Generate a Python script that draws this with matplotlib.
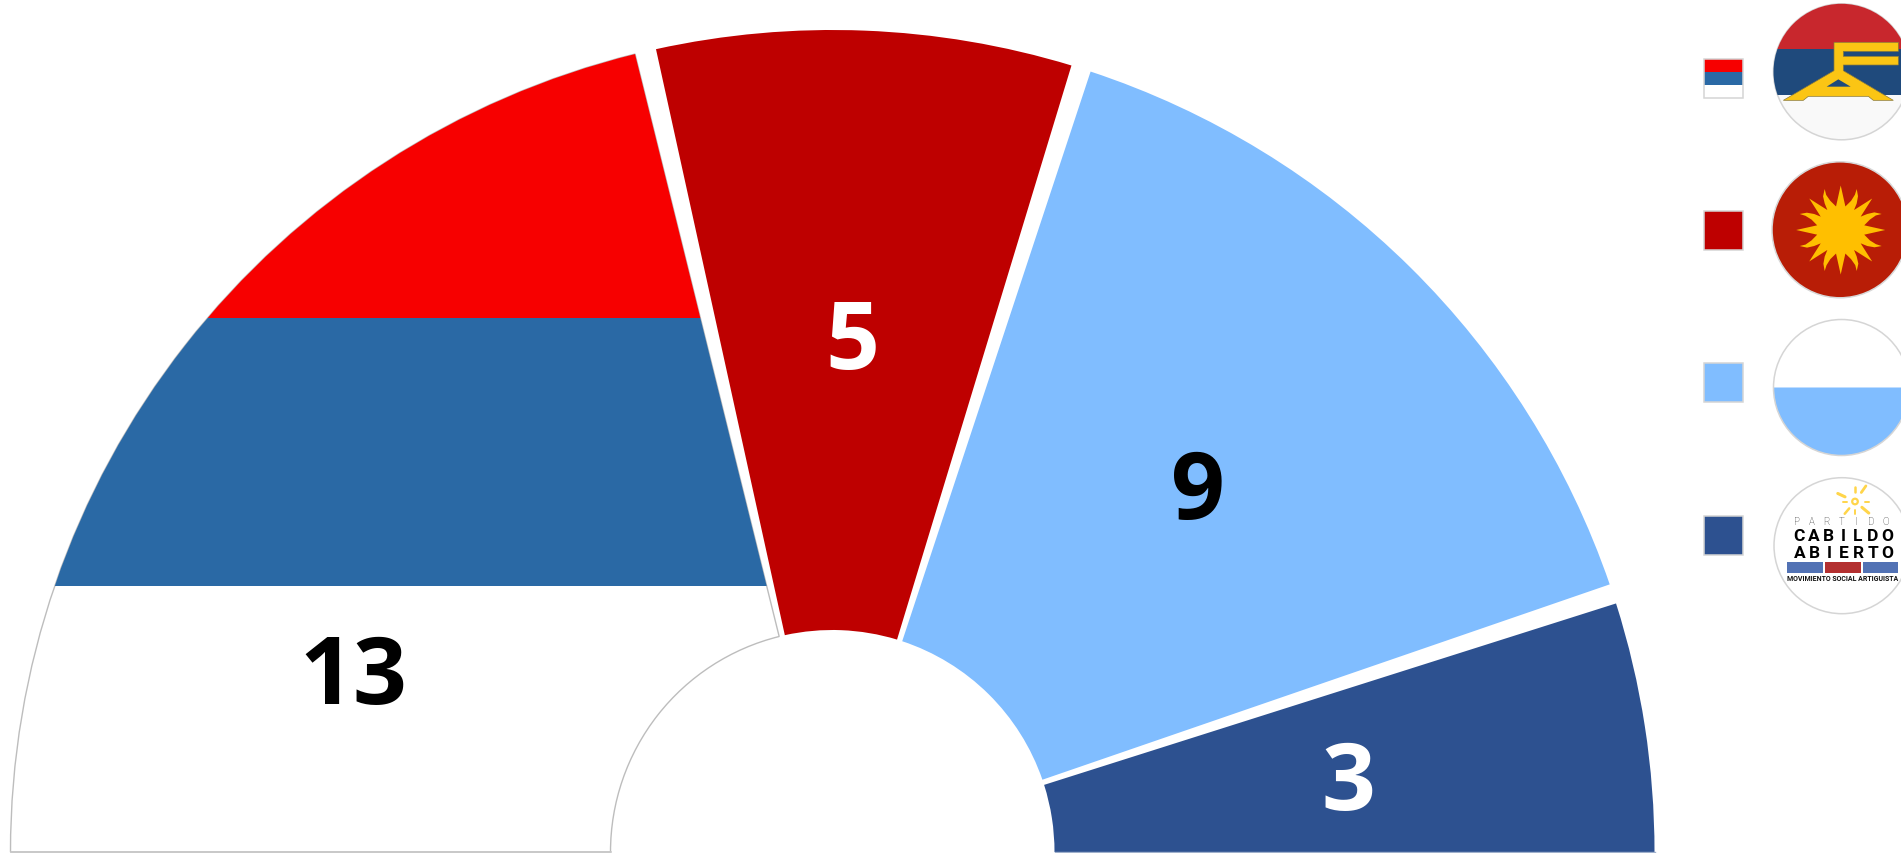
import numpy as np
import matplotlib
matplotlib.use("Agg")
import matplotlib.pyplot as plt
from matplotlib.patches import Wedge, Rectangle, Circle, Polygon

# ---- data ----
parties = ["Frente Amplio", "Partido Colorado", "Partido Nacional", "Cabildo Abierto"]
seats = [13, 5, 9, 3]
label_text = ["13", "5", "9", "3"]
colors = ["#FFFFFF", "#BE0000", "#80BDFF", "#2D5190"]
label_colors = ["black", "white", "black", "white"]
tricolor = ["#F70000", "#2A69A5", "#FFFFFF"]

W, H = 1901, 854
fig = plt.figure(figsize=(W / 100, H / 100), dpi=100)
ax = fig.add_axes([0, 0, 1, 1])
ax.set_xlim(0, W)
ax.set_ylim(H, 0)          # pixel-like coordinates, y downward
ax.set_aspect("equal")
ax.axis("off")

FONT = "Open Sans"
CX, CY, R_OUT, R_IN = 832.5, 853.0, 822.0, 222.0
EDGE = "#BDBDBD"
# angular trim of each wedge (degrees) at its start and end
trim_start = [0.0, -0.4, 0.3, 0.4]
trim_end = [1.9, 1.1, 1.0, 0.0]

total = sum(seats)
cum = np.cumsum([0] + seats)
# Wedge angles on a y-down axis run clockwise from +x: semicircle is 180..360
th_start = [180 + 180 * c / total for c in cum[:-1]]
th_end = [180 + 180 * c / total for c in cum[1:]]
label_xy = [(353.7, 668.7), (852.5, 334), (1198, 483), (1348, 774.7)]

for i, s in enumerate(seats):
    a0 = th_start[i] + trim_start[i]
    a1 = th_end[i] - trim_end[i]
    if i == 0:
        base = Wedge((CX, CY), R_OUT, a0, a1, width=R_OUT - R_IN,
                     facecolor="white", edgecolor=EDGE, linewidth=1.0, zorder=2)
        ax.add_patch(base)
        clip = Wedge((CX, CY), R_OUT, a0, a1, width=R_OUT - R_IN,
                     transform=ax.transData, facecolor="none", edgecolor="none")
        ax.add_patch(clip)
        bands = [(0, 319.3), (319.3, 586.7)]
        for (y0, y1), c in zip(bands, tricolor[:2]):
            r = Rectangle((0, y0), CX + 200, y1 - y0, facecolor=c,
                          edgecolor="none", zorder=3)
            ax.add_patch(r)
            r.set_clip_path(clip)
    else:
        ax.add_patch(Wedge((CX, CY), R_OUT, a0, a1, width=R_OUT - R_IN,
                           facecolor=colors[i], edgecolor="none", zorder=2))
    ax.text(label_xy[i][0], label_xy[i][1], label_text[i], color=label_colors[i],
            fontsize=68, fontweight="bold", family=FONT, ha="center",
            va="center_baseline", zorder=5)

# baseline hairline under the chart
ax.plot([CX - R_OUT, CX - R_IN], [CY, CY], color="#C8C8C8", lw=1.2, zorder=4)
ax.plot([CX + R_IN, CX + R_OUT], [CY, CY], color="#9FB0CC", lw=1.0, zorder=4)

# ---- legend squares ----
LX, LS = 1703.5, 39
leg_y = [59.5, 211.5, 363.5, 516.5]
for i, y in enumerate(leg_y):
    if i == 0:
        ax.add_patch(Rectangle((LX, y), LS, 13, facecolor=tricolor[0], edgecolor="none", zorder=3))
        ax.add_patch(Rectangle((LX, y + 13), LS, 13, facecolor=tricolor[1], edgecolor="none", zorder=3))
        ax.add_patch(Rectangle((LX, y), LS, LS, facecolor="none", edgecolor="#D5D5D5", lw=1.1, zorder=4))
    else:
        ax.add_patch(Rectangle((LX, y), LS, LS, facecolor=colors[i], edgecolor="#D5D5D5", lw=1.1, zorder=3))

# ---- logo 1 ----
LOGO_R = 68.0
def circle(cx, cy, face, edge="#D5D5D5", r=LOGO_R):
    c = Circle((cx, cy), r, facecolor=face, edgecolor=edge, lw=1.1, zorder=3)
    ax.add_patch(c)
    return c

c1x, c1y = 1841.5, 72.8
clip1 = circle(c1x, c1y, "#F9F9F9")
for y0, y1, c in [(0, 50, "#C8272D"), (50, 95.5, "#1F4A7C")]:
    r = Rectangle((1760, y0), 150, y1 - y0, facecolor=c, edgecolor="none", zorder=3.1)
    ax.add_patch(r)
    r.set_clip_path(clip1)
def z1(pts):
    return [(1660 + x / 3, y / 3) for x, y in pts]
emblem = z1([(522, 130), (715, 130), (715, 157), (550, 157), (550, 172), (715, 172),
             (715, 198), (550, 198), (550, 215), (700, 304), (640, 304), (625, 292),
             (445, 292), (430, 304), (370, 304), (522, 215)])
ax.add_patch(Polygon(emblem, closed=True, facecolor="#FBC514", edgecolor="#8A7A3A", lw=0.5, zorder=3.3))
ax.add_patch(Polygon(z1([(500, 263), (535, 241), (572, 263)]), closed=True,
                     facecolor="#1F4A7C", edgecolor="none", zorder=3.4))

# ---- logo 2 ----
c2x, c2y = 1840.0, 230.8
circle(c2x, c2y, "#B81D06", edge="#D8D8D8")
sx, sy = 1840.7, 231.0
def P(r, a):
    return (sx + r * np.cos(a), sy + r * np.sin(a))
pts = []
n = 16
for k in range(n):
    ang = 2 * np.pi * k / n
    pts.append(P(24, ang - np.pi / n))
    if k % 2 == 0:
        pts.append(P(44.5, ang))
    else:
        # curled ray: body shifted slightly one way, tip back the other
        s = 1 if k in (1, 5, 9, 13) else -1
        pts += [P(31, ang + s * 0.05 - 0.10), P(38, ang + s * 0.04 - 0.05),
                P(44, ang - s * 0.02),
                P(38, ang + s * 0.04 + 0.04), P(31, ang + s * 0.05 + 0.10)]
ax.add_patch(Polygon(pts, closed=True, facecolor="#FFBF00", edgecolor="none", zorder=3.3))

# ---- logo 3 ----
c3x, c3y = 1841.5, 388.5
ax.add_patch(Wedge((c3x, c3y), LOGO_R, 0, 180, facecolor="#80BDFF", edgecolor="none", zorder=3))
circle(c3x, c3y, "none")

# ---- logo 4 ----
c4x, c4y = 1842.0, 546.7
circle(c4x, c4y, "white")
sun_x, sun_y = 1855, 502.5
ax.add_patch(Circle((sun_x, sun_y), 2.8, facecolor="none", edgecolor="#FFD54A", lw=1.6, zorder=4))
for deg, r0, r1, lw in [(270, 10, 15, 1.8), (305, 11, 19, 2.0), (205, 11, 19, 2.2),
                        (40, 9, 18, 2.2), (130, 9, 16, 1.8), (90, 8, 12, 1.4),
                        (0, 10, 14, 1.4), (180, 8, 12, 1.4)]:
    a = np.deg2rad(deg)
    ax.plot([sun_x + r0 * np.cos(a), sun_x + r1 * np.cos(a)],
            [sun_y + r0 * np.sin(a), sun_y + r1 * np.sin(a)],
            color="#FFD54A", lw=lw, solid_capstyle="round", zorder=4)
def spaced(s, y, x0, x1, **kw):
    xs = np.linspace(x0, x1, len(s))
    for ch, x in zip(s, xs):
        ax.text(x, y, ch, ha="center", va="center", zorder=4, family="Roboto", **kw)
spaced("PARTIDO", 522, 1797, 1886, fontsize=7, color="#222222", fontweight="light")
spaced("CABILDO", 536.7, 1799, 1887, fontsize=12.5, color="black", fontweight="bold")
spaced("ABIERTO", 554, 1800, 1887, fontsize=12.5, color="black", fontweight="bold")
for x0, x1, c in [(1787, 1823, "#5272B4"), (1825, 1861, "#B33030"), (1862.5, 1898, "#5272B4")]:
    ax.add_patch(Rectangle((x0, 563), x1 - x0, 10.7, facecolor=c, edgecolor="none", zorder=4))
ax.text(1842.5, 579.4, "MOVIMIENTO SOCIAL ARTIGUISTA", ha="center", va="center",
        fontsize=5.0, fontweight="bold", family="Roboto", color="#111111", zorder=4)

fig.savefig("out.png", dpi=100, facecolor="white")
